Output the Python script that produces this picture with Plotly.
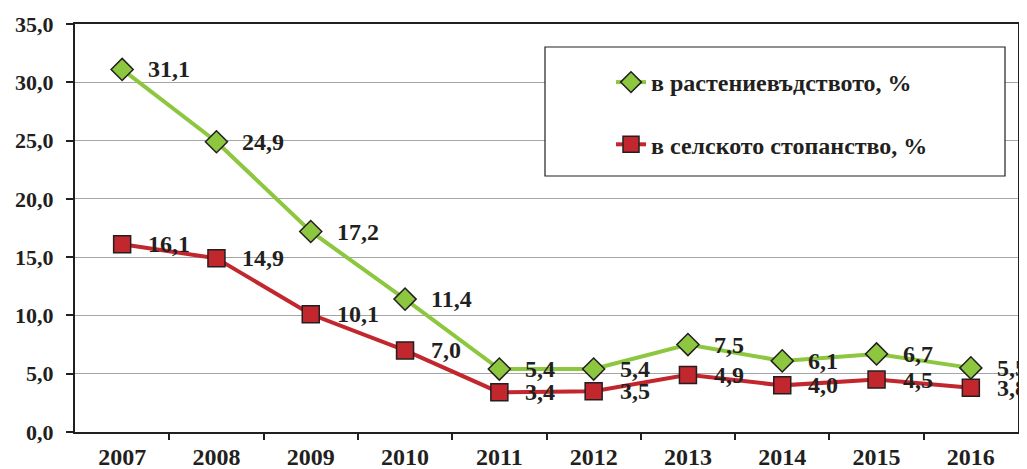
import plotly.graph_objects as go

years = ["2007", "2008", "2009", "2010", "2011", "2012", "2013", "2014", "2015", "2016"]
plant = [31.1, 24.9, 17.2, 11.4, 5.4, 5.4, 7.5, 6.1, 6.7, 5.5]
agri = [16.1, 14.9, 10.1, 7.0, 3.4, 3.5, 4.9, 4.0, 4.5, 3.8]
name_plant = "в растениевъдството, %"
name_agri = "в селското стопанство, %"
y_ticks = [0, 5, 10, 15, 20, 25, 30, 35]

FONT = "Liberation Serif, Times New Roman, serif"
FS = 24
TXT = "#231F20"
GREEN = "#8DC63F"
RED = "#C1272D"

idx = list(range(len(years)))

# page has an 8px body margin: figure is offset by (8, 8)
OFF = 8
W, H = 1027 - OFF, 469 - OFF
PL, PR, PT, PB = 75, 1018, 24, 432  # plot area in page pixels

fig = go.Figure()
fig.add_trace(go.Scatter(
    x=idx, y=plant, mode="lines+markers", name="<b>" + name_plant + "</b>",
    line=dict(color=GREEN, width=4),
    marker=dict(symbol="diamond", size=17, color=GREEN, line=dict(color="#231F20", width=1.5)),
    legendgroup="a",
))
fig.add_trace(go.Scatter(
    x=idx, y=agri, mode="lines+markers", name="<b>" + name_agri + "</b>",
    line=dict(color=RED, width=4),
    marker=dict(symbol="square", size=17, color=RED, line=dict(color="#231F20", width=1.5)),
    legendgroup="b",
))

for series in (plant, agri):
    for i, v in zip(idx, series):
        fig.add_annotation(
            x=i, y=v, text="<b>" + f"{v:.1f}".replace(".", ",") + "</b>",
            showarrow=False, xanchor="left", yanchor="middle", xshift=24,
            font=dict(family=FONT, size=FS, color=TXT),
        )

pw, ph = PR - PL, PB - PT
# legend frame
fig.add_shape(type="rect", xref="paper", yref="paper",
              x0=(545 - PL) / pw, x1=(1005 - PL) / pw,
              y0=(PB - 176) / ph, y1=(PB - 47) / ph,
              line=dict(color="#231F20", width=1.2), fillcolor="white", layer="above")

fig.update_layout(
    width=W, height=H,
    margin=dict(l=PL - OFF, r=OFF + W - PR, t=PT - OFF, b=OFF + H - PB, autoexpand=False),
    paper_bgcolor="white", plot_bgcolor="white",
    separators=", ",
    showlegend=True,
    font=dict(family=FONT, color=TXT),
    legend=dict(
        x=(611 - PL) / pw, y=(PB - 60) / ph, xanchor="left", yanchor="top",
        bgcolor="rgba(0,0,0,0)", borderwidth=0,
        font=dict(family=FONT, size=FS, color=TXT),
        tracegroupgap=28, traceorder="grouped",
    ),
    xaxis=dict(
        range=[-0.5, len(years) - 0.5], automargin=False,
        tickvals=idx, ticktext=["<b>" + y + "</b>" for y in years], ticks="",
        ticklabelstandoff=2,
        showline=True, linecolor="#231F20", linewidth=2, mirror=True,
        showgrid=False, zeroline=False,
        tickfont=dict(family=FONT, size=FS, color=TXT),
    ),
    xaxis2=dict(
        overlaying="x", matches="x", side="bottom", automargin=False,
        tickvals=[i + 0.5 for i in idx[:-1]], ticktext=[""] * (len(idx) - 1),
        ticks="outside", ticklen=7, tickcolor="#231F20", tickwidth=1.5,
        showgrid=False, zeroline=False, showline=False,
    ),
    yaxis=dict(
        range=[0, 35], tickvals=y_ticks, tickformat=".1f", automargin=False,
        ticks="outside", ticklen=7, tickcolor="#231F20", tickwidth=1.5,
        ticklabelstandoff=8,
        showline=True, linecolor="#231F20", linewidth=2, mirror=True,
        showgrid=True, gridcolor="#A6A6A6", gridwidth=1.2, zeroline=False,
        tickfont=dict(family=FONT, size=22, color=TXT, weight="bold"),
    ),
)
# invisible trace to activate xaxis2 (boundary tick marks)
fig.add_trace(go.Scatter(x=[idx[0]], y=[plant[0]], xaxis="x2", mode="markers",
                         marker=dict(opacity=0), showlegend=False, hoverinfo="skip"))

fig.write_html("out.html")
